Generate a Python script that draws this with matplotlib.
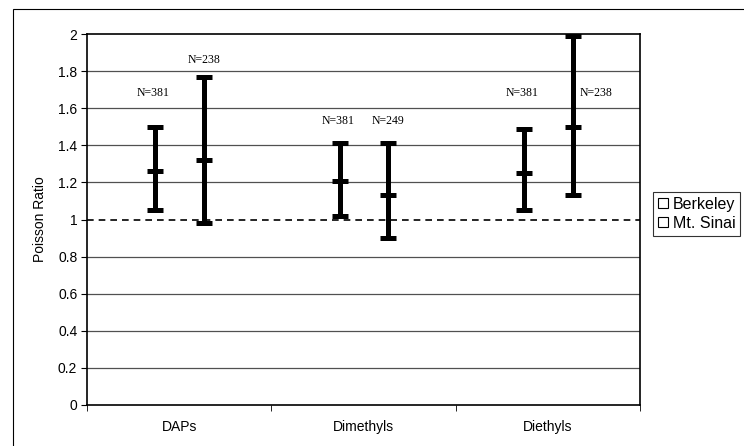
import numpy as np
import matplotlib.pyplot as plt
from matplotlib.patches import Rectangle

categories = ['DAPs', 'Dimethyls', 'Diethyls']
series = ['Berkeley', 'Mt. Sinai']
berkeley_mid = [1.26, 1.21, 1.25]
berkeley_low = [1.05, 1.02, 1.05]
berkeley_high = [1.50, 1.41, 1.49]
sinai_mid = [1.32, 1.13, 1.50]
sinai_low = [0.98, 0.90, 1.13]
sinai_high = [1.77, 1.41, 1.99]
berkeley_n = ['N=381', 'N=381', 'N=381']
sinai_n = ['N=238', 'N=249', 'N=238']
yticks = [0, 0.2, 0.4, 0.6, 0.8, 1, 1.2, 1.4, 1.6, 1.8, 2]

fig = plt.figure(figsize=(7.44, 4.46), dpi=100)
ax = fig.add_axes([87/744, 1 - 405/446, (640-87)/744, (405-34)/446])

# outer chart frame
fig.patches.append(Rectangle((13/744, -0.1), 1.0, 1 - 9/446 + 0.1,
                             transform=fig.transFigure, fill=False,
                             edgecolor='black', lw=0.8))

x = np.arange(len(categories))
off = 0.13
for xs, mid, lo, hi in [(x - off, berkeley_mid, berkeley_low, berkeley_high),
                        (x + off + 0.005, sinai_mid, sinai_low, sinai_high)]:
    mid = np.array(mid); lo = np.array(lo); hi = np.array(hi)
    ax.errorbar(xs, mid, yerr=[mid - lo, hi - mid], fmt='_', color='black',
                ecolor='black', elinewidth=3.6, capsize=5.6, capthick=3.6,
                markersize=11.2, markeredgewidth=3.6, zorder=3)

serif = ['Liberation Serif', 'DejaVu Serif']
b_lab_y = [1.68, 1.53, 1.68]
s_lab_y = [1.86, 1.53, 1.68]
for i in range(3):
    ax.text(x[i] - off - 0.01, b_lab_y[i], berkeley_n[i], ha='center', va='center',
            fontsize=8.5, family=serif)
for i in range(2):
    ax.text(x[i] + off + 0.005, s_lab_y[i], sinai_n[i], ha='center', va='center',
            fontsize=8.5, family=serif)
ax.text(x[2] + off + 0.13, s_lab_y[2], sinai_n[2], ha='center', va='center',
        fontsize=8.5, family=serif)

ax.axhline(1, color='black', lw=1.2, ls=(0, (4, 3)), zorder=2)
for t in yticks[1:-1]:
    if t != 1:
        ax.axhline(t, color='#505050', lw=0.9, zorder=1)

ax.set_xlim(-0.5, 2.5)
ax.set_ylim(0, 2)
ax.set_yticks(yticks)
ax.set_yticklabels([f'{t:g}' for t in yticks])
ax.set_xticks(x)
ax.set_xticklabels(categories)
ax.set_xticks([-0.5, 0.5, 1.5, 2.5], minor=True)
ax.tick_params(axis='x', which='major', length=0, pad=11)
ax.tick_params(axis='x', which='minor', length=4, direction='out')
ax.tick_params(axis='y', length=4, direction='out', pad=3)
for lbl in ax.get_xticklabels() + ax.get_yticklabels():
    lbl.set_family(['Liberation Sans', 'DejaVu Sans'])
    lbl.set_fontsize(10)
ax.set_ylabel('Poisson Ratio', family=['Liberation Sans', 'DejaVu Sans'], fontsize=10,
              labelpad=8)
for s in ax.spines.values():
    s.set_color('black')
    s.set_linewidth(1.2)

handles = [plt.Line2D([], [], ls='none', marker='s', markerfacecolor='white',
                      markeredgecolor='black', markersize=6.5, markeredgewidth=0.8)
           for _ in series]
leg = fig.legend(handles, series, loc='upper left', bbox_to_anchor=(653/744, 1 - 192/446),
                 frameon=True, fancybox=False, edgecolor='black', handlelength=0.6,
                 handletextpad=0.35, borderpad=0.3, labelspacing=0.25, borderaxespad=0,
                 prop={'family': ['Liberation Sans', 'DejaVu Sans'], 'size': 11.5})
leg.get_frame().set_linewidth(0.8)

fig.savefig('out.png', dpi=100)
